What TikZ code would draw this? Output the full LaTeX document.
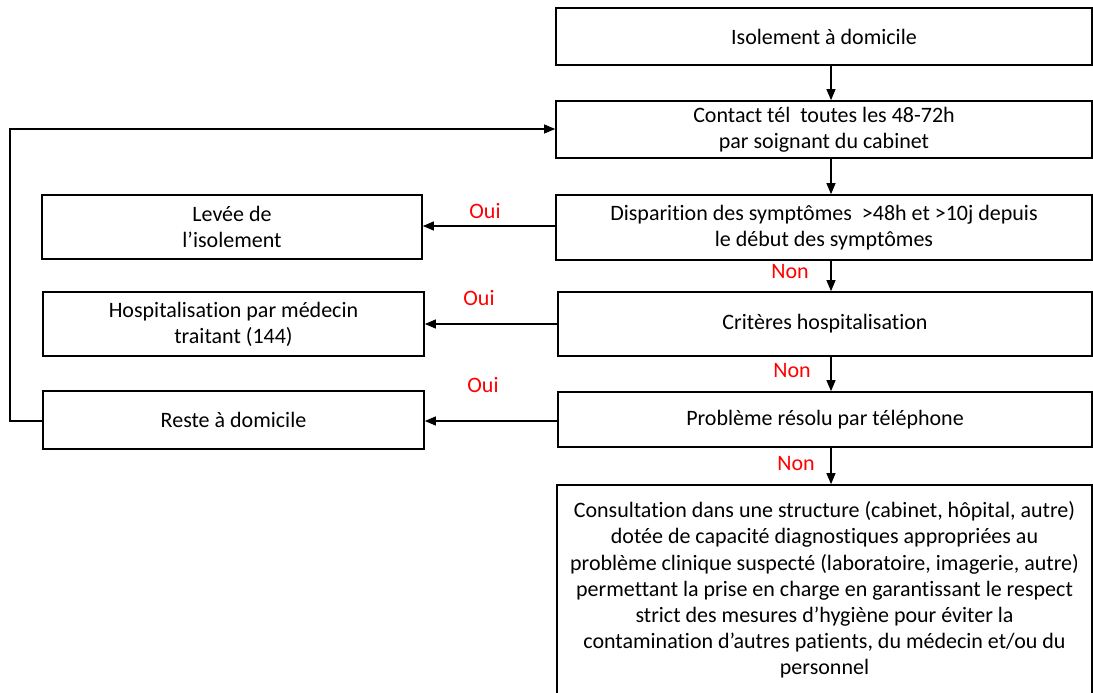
\documentclass[tikz,border=0pt]{standalone}
\usepackage{fontspec}
\setmainfont{Carlito}[Ligatures={NoCommon,NoContextual}]
\usetikzlibrary{arrows.meta}
\begin{document}
\begin{tikzpicture}[x=1pt,y=-1pt,
  box/.style={draw,line width=1.7pt,align=center,inner sep=0pt,
    font=\fontsize{22}{26.2}\selectfont},
  arr/.style={line width=1.2pt,-{Triangle[length=11pt,width=9pt]}},
  lab/.style={text=red,font=\fontsize{22}{26.2}\selectfont,inner sep=0pt}]
\useasboundingbox (0,0) rectangle (1093,693);
% right column
\node[box,minimum width=536,minimum height=57] (iso) at (824,36.5) {Isolement à domicile};
\node[box,minimum width=536,minimum height=57] (contact) at (824,129.5) {Contact tél\ \ toutes les 48-72h\\par soignant du cabinet};
\node[box,minimum width=536,minimum height=65] (disp) at (824,227.5) {Disparition des symptômes\ \ >48h et >10j depuis\\le début des symptômes};
\node[box,minimum width=534,minimum height=64] (crit) at (825,324) {Critères hospitalisation};
\node[box,minimum width=534,minimum height=55] (prob) at (825,419.5) {Problème résolu par téléphone};
\node[box,minimum width=535,minimum height=210] (cons) at (824.5,590) {Consultation dans une structure (cabinet, hôpital, autre)\\dotée de capacité diagnostiques appropriées au\\problème clinique suspecté (laboratoire, imagerie, autre)\\permettant la prise en charge en garantissant le respect\\strict des mesures d’hygiène pour éviter la\\contamination d’autres patients, du médecin et/ou du\\personnel};
% left column
\node[box,minimum width=380,minimum height=64] (lev) at (232,227) {Levée de\\l’isolement};
\node[box,minimum width=381,minimum height=64] (hosp) at (233.5,324) {Hospitalisation par médecin\\traitant (144)};
\node[box,minimum width=381,minimum height=58] (reste) at (233.5,420) {Reste à domicile};
% vertical arrows
\coordinate (ax) at (831,0);
\draw[arr] (iso.south -| ax) -- (contact.north -| ax);
\draw[arr] (contact.south -| ax) -- (disp.north -| ax);
\draw[arr] (disp.south -| ax) -- (crit.north -| ax);
\draw[arr] (crit.south -| ax) -- (prob.north -| ax);
\draw[arr] (prob.south -| ax) -- (cons.north -| ax);
% horizontal arrows
\draw[arr] (disp.west |- 0,226) -- (lev.east |- 0,226);
\draw[arr] (crit.west |- 0,324) -- (hosp.east |- 0,324);
\draw[arr] (prob.west |- 0,421) -- (reste.east |- 0,421);
% loop
\coordinate (lx) at (10,0);
\draw[arr] (reste.west |- 0,421) -- (lx |- 0,421) -- (lx |- 0,129) -- (contact.west |- 0,129);
% labels
\node[lab] (o1) at (485,211) {Oui};
\node[lab] (o2) at (479,298) {Oui};
\node[lab] (o3) at (483,385) {Oui};
\node[lab] (n1) at (790,272) {Non};
\node[lab] (n2) at (792,371) {Non};
\node[lab] (n3) at (796,464) {Non};
\end{tikzpicture}
\end{document}
